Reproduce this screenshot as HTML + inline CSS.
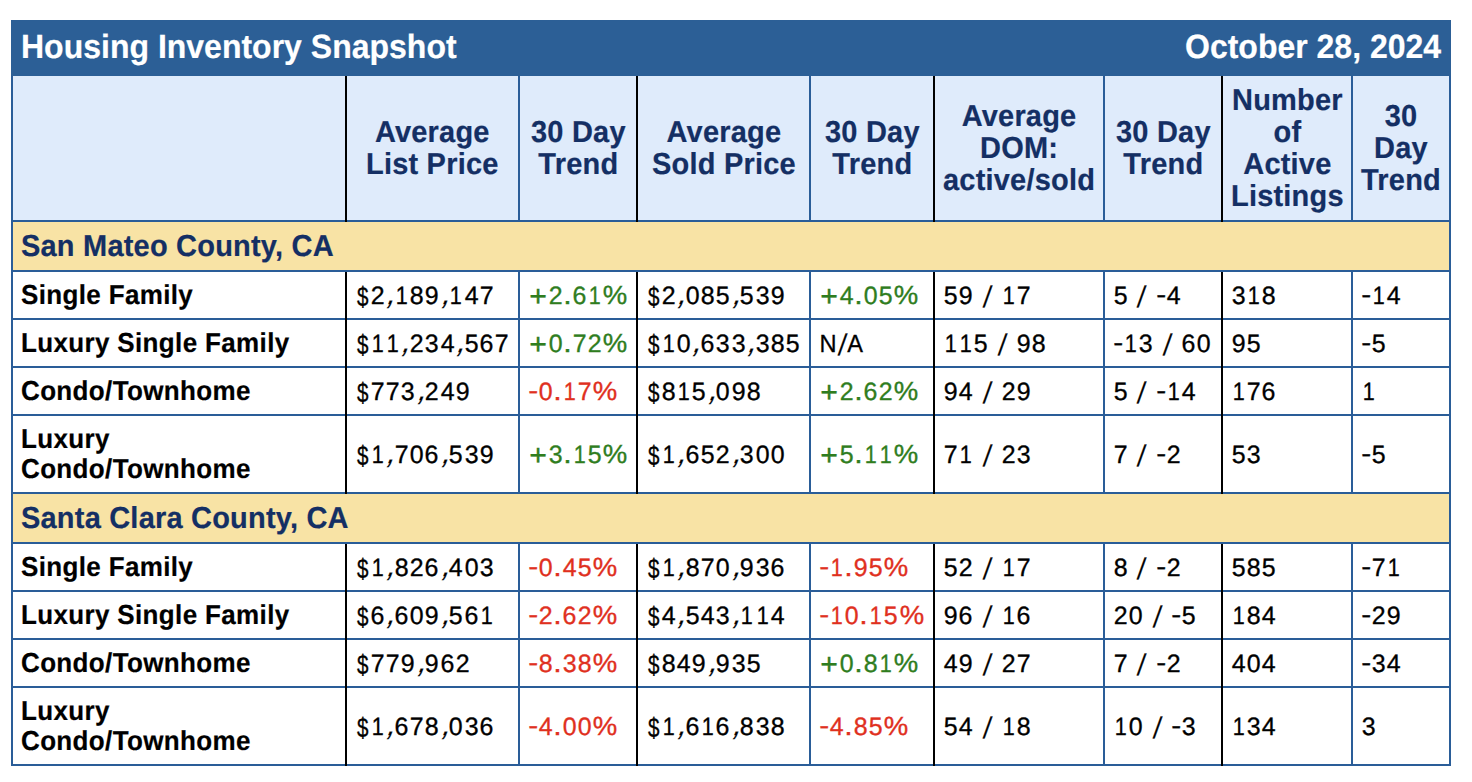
<!DOCTYPE html>
<html><head><meta charset="utf-8"><title>Housing Inventory Snapshot</title>
<style>
html,body{margin:0;padding:0;background:#fff;width:1472px;height:782px;overflow:hidden;}
body{position:relative;font-family:"Liberation Sans",sans-serif;}
.t,.h,.s,.lab{-webkit-text-stroke:0.2px currentColor;}
.g0 > div{position:absolute;}
.t{position:absolute;color:#fff;font-weight:bold;font-size:32px;line-height:54px;height:54px;white-space:nowrap;}
.t span{display:inline-block;transform:scaleY(1.05) skewX(0.05deg);transform-origin:50% 38px;}
.h{position:absolute;display:flex;align-items:center;justify-content:center;text-align:center;color:#142f64;font-weight:bold;font-size:29px;line-height:32px;letter-spacing:0.2px;}
.h span,.s span{display:block;transform:scaleY(1.045) skewX(0.05deg);transform-origin:50% 26px;}
.s{position:absolute;display:flex;align-items:center;color:#142f64;font-weight:bold;font-size:29px;line-height:32px;letter-spacing:0.2px;white-space:nowrap;}
.lab{position:absolute;display:flex;align-items:center;color:#000;font-weight:bold;font-size:26px;line-height:30px;letter-spacing:0.35px;white-space:nowrap;}
.lab span{display:block;transform:scaleY(1.055) skewX(0.05deg);transform-origin:50% 24px;}
.v{color:#000;font-size:24px;line-height:24px;-webkit-text-stroke:0.3px currentColor;}
.v b{position:absolute;font-weight:normal;height:24px;transform-origin:0 20.32px;white-space:pre;}
.g{color:#2f7d1e;}
.r{color:#e0301e;}
</style></head><body>
<div class="g0">
<div style="left:11px;top:20px;width:1440px;height:746px;background:#2a5d98"></div>
<div style="left:11px;top:20px;width:1440px;height:56px;background:#2c5f96"></div>
<div style="left:13px;top:76px;width:1436px;height:144px;background:#dfebfb"></div>
<div style="left:13px;top:222px;width:1436px;height:48px;background:#f8e3a5"></div>
<div style="left:13px;top:272px;width:1436px;height:46px;background:#ffffff"></div>
<div style="left:13px;top:320px;width:1436px;height:46px;background:#ffffff"></div>
<div style="left:13px;top:368px;width:1436px;height:46px;background:#ffffff"></div>
<div style="left:13px;top:416px;width:1436px;height:76px;background:#ffffff"></div>
<div style="left:13px;top:494px;width:1436px;height:48px;background:#f8e3a5"></div>
<div style="left:13px;top:544px;width:1436px;height:46px;background:#ffffff"></div>
<div style="left:13px;top:592px;width:1436px;height:46px;background:#ffffff"></div>
<div style="left:13px;top:640px;width:1436px;height:46px;background:#ffffff"></div>
<div style="left:13px;top:688px;width:1436px;height:76px;background:#ffffff"></div>
<div style="left:345px;top:76px;width:2px;height:146px;background:#000000"></div>
<div style="left:345px;top:272px;width:2px;height:48px;background:#000000"></div>
<div style="left:345px;top:320px;width:2px;height:48px;background:#000000"></div>
<div style="left:345px;top:368px;width:2px;height:48px;background:#000000"></div>
<div style="left:345px;top:416px;width:2px;height:78px;background:#000000"></div>
<div style="left:345px;top:544px;width:2px;height:48px;background:#000000"></div>
<div style="left:345px;top:592px;width:2px;height:48px;background:#000000"></div>
<div style="left:345px;top:640px;width:2px;height:48px;background:#000000"></div>
<div style="left:345px;top:688px;width:2px;height:78px;background:#000000"></div>
<div style="left:518px;top:76px;width:2px;height:144px;background:#2a5d98"></div>
<div style="left:518px;top:272px;width:2px;height:46px;background:#2a5d98"></div>
<div style="left:518px;top:320px;width:2px;height:46px;background:#2a5d98"></div>
<div style="left:518px;top:368px;width:2px;height:46px;background:#2a5d98"></div>
<div style="left:518px;top:416px;width:2px;height:76px;background:#2a5d98"></div>
<div style="left:518px;top:544px;width:2px;height:46px;background:#2a5d98"></div>
<div style="left:518px;top:592px;width:2px;height:46px;background:#2a5d98"></div>
<div style="left:518px;top:640px;width:2px;height:46px;background:#2a5d98"></div>
<div style="left:518px;top:688px;width:2px;height:76px;background:#2a5d98"></div>
<div style="left:636px;top:76px;width:2px;height:146px;background:#000000"></div>
<div style="left:636px;top:272px;width:2px;height:48px;background:#000000"></div>
<div style="left:636px;top:320px;width:2px;height:48px;background:#000000"></div>
<div style="left:636px;top:368px;width:2px;height:48px;background:#000000"></div>
<div style="left:636px;top:416px;width:2px;height:78px;background:#000000"></div>
<div style="left:636px;top:544px;width:2px;height:48px;background:#000000"></div>
<div style="left:636px;top:592px;width:2px;height:48px;background:#000000"></div>
<div style="left:636px;top:640px;width:2px;height:48px;background:#000000"></div>
<div style="left:636px;top:688px;width:2px;height:78px;background:#000000"></div>
<div style="left:809px;top:76px;width:2px;height:144px;background:#2a5d98"></div>
<div style="left:809px;top:272px;width:2px;height:46px;background:#2a5d98"></div>
<div style="left:809px;top:320px;width:2px;height:46px;background:#2a5d98"></div>
<div style="left:809px;top:368px;width:2px;height:46px;background:#2a5d98"></div>
<div style="left:809px;top:416px;width:2px;height:76px;background:#2a5d98"></div>
<div style="left:809px;top:544px;width:2px;height:46px;background:#2a5d98"></div>
<div style="left:809px;top:592px;width:2px;height:46px;background:#2a5d98"></div>
<div style="left:809px;top:640px;width:2px;height:46px;background:#2a5d98"></div>
<div style="left:809px;top:688px;width:2px;height:76px;background:#2a5d98"></div>
<div style="left:933px;top:76px;width:2px;height:146px;background:#000000"></div>
<div style="left:933px;top:272px;width:2px;height:48px;background:#000000"></div>
<div style="left:933px;top:320px;width:2px;height:48px;background:#000000"></div>
<div style="left:933px;top:368px;width:2px;height:48px;background:#000000"></div>
<div style="left:933px;top:416px;width:2px;height:78px;background:#000000"></div>
<div style="left:933px;top:544px;width:2px;height:48px;background:#000000"></div>
<div style="left:933px;top:592px;width:2px;height:48px;background:#000000"></div>
<div style="left:933px;top:640px;width:2px;height:48px;background:#000000"></div>
<div style="left:933px;top:688px;width:2px;height:78px;background:#000000"></div>
<div style="left:1103px;top:76px;width:2px;height:144px;background:#2a5d98"></div>
<div style="left:1103px;top:272px;width:2px;height:46px;background:#2a5d98"></div>
<div style="left:1103px;top:320px;width:2px;height:46px;background:#2a5d98"></div>
<div style="left:1103px;top:368px;width:2px;height:46px;background:#2a5d98"></div>
<div style="left:1103px;top:416px;width:2px;height:76px;background:#2a5d98"></div>
<div style="left:1103px;top:544px;width:2px;height:46px;background:#2a5d98"></div>
<div style="left:1103px;top:592px;width:2px;height:46px;background:#2a5d98"></div>
<div style="left:1103px;top:640px;width:2px;height:46px;background:#2a5d98"></div>
<div style="left:1103px;top:688px;width:2px;height:76px;background:#2a5d98"></div>
<div style="left:1221px;top:76px;width:2px;height:146px;background:#000000"></div>
<div style="left:1221px;top:272px;width:2px;height:48px;background:#000000"></div>
<div style="left:1221px;top:320px;width:2px;height:48px;background:#000000"></div>
<div style="left:1221px;top:368px;width:2px;height:48px;background:#000000"></div>
<div style="left:1221px;top:416px;width:2px;height:78px;background:#000000"></div>
<div style="left:1221px;top:544px;width:2px;height:48px;background:#000000"></div>
<div style="left:1221px;top:592px;width:2px;height:48px;background:#000000"></div>
<div style="left:1221px;top:640px;width:2px;height:48px;background:#000000"></div>
<div style="left:1221px;top:688px;width:2px;height:78px;background:#000000"></div>
<div style="left:1351px;top:76px;width:2px;height:144px;background:#2a5d98"></div>
<div style="left:1351px;top:272px;width:2px;height:46px;background:#2a5d98"></div>
<div style="left:1351px;top:320px;width:2px;height:46px;background:#2a5d98"></div>
<div style="left:1351px;top:368px;width:2px;height:46px;background:#2a5d98"></div>
<div style="left:1351px;top:416px;width:2px;height:76px;background:#2a5d98"></div>
<div style="left:1351px;top:544px;width:2px;height:46px;background:#2a5d98"></div>
<div style="left:1351px;top:592px;width:2px;height:46px;background:#2a5d98"></div>
<div style="left:1351px;top:640px;width:2px;height:46px;background:#2a5d98"></div>
<div style="left:1351px;top:688px;width:2px;height:76px;background:#2a5d98"></div>
</div>
<div class="t" style="left:21px;top:20px;"><span>Housing Inventory Snapshot</span></div>
<div class="t" style="right:31px;top:20px;"><span>October 28, 2024</span></div>
<div class="h" style="left:347px;width:171px;top:76px;height:144px;"><div><span>Average</span><span>List Price</span></div></div>
<div class="h" style="left:520px;width:116px;top:76px;height:144px;"><div><span>30 Day</span><span>Trend</span></div></div>
<div class="h" style="left:638px;width:171px;top:76px;height:144px;"><div><span>Average</span><span>Sold Price</span></div></div>
<div class="h" style="left:811px;width:122px;top:76px;height:144px;"><div><span>30 Day</span><span>Trend</span></div></div>
<div class="h" style="left:935px;width:168px;top:76px;height:144px;"><div><span>Average</span><span>DOM:</span><span>active/sold</span></div></div>
<div class="h" style="left:1105px;width:116px;top:76px;height:144px;"><div><span>30 Day</span><span>Trend</span></div></div>
<div class="h" style="left:1223px;width:128px;top:76px;height:144px;"><div><span>Number</span><span>of</span><span>Active</span><span>Listings</span></div></div>
<div class="h" style="left:1353px;width:96px;top:76px;height:144px;"><div><span>30</span><span>Day</span><span>Trend</span></div></div>
<div class="s" style="left:21px;top:222px;height:48px;"><span>San Mateo County, CA</span></div>
<div class="lab" style="left:21px;top:272px;height:46px;"><div><span>Single Family</span></div></div>
<div class="v"><b style="left:354.55px;top:283.68px;transform:translate(1.96px,1.66px) scale(0.858,1.137) skewX(0.05deg)">$</b><b style="left:369.81px;top:283.68px;transform:translate(0.69px,-0.00px) scale(1.040,1.045) skewX(0.05deg)">2</b><b style="left:385.07px;top:283.68px;transform:translate(0.82px,-0.28px) skewX(-20deg) scale(1.100,1.313) skewX(0.05deg)">,</b><b style="left:393.80px;top:283.68px;transform:translate(1.83px,-0.00px) scale(0.900,1.045) skewX(0.05deg)">1</b><b style="left:409.05px;top:283.68px;transform:translate(0.69px,0.00px) scale(1.040,1.045) skewX(0.05deg)">8</b><b style="left:424.31px;top:283.68px;transform:translate(0.69px,0.00px) scale(1.040,1.045) skewX(0.05deg)">9</b><b style="left:439.57px;top:283.68px;transform:translate(0.82px,-0.28px) skewX(-20deg) scale(1.100,1.313) skewX(0.05deg)">,</b><b style="left:448.30px;top:283.68px;transform:translate(1.83px,-0.00px) scale(0.900,1.045) skewX(0.05deg)">1</b><b style="left:463.56px;top:283.68px;transform:translate(0.77px,-0.00px) scale(1.040,1.045) skewX(0.05deg)">4</b><b style="left:478.82px;top:283.68px;transform:translate(0.68px,-0.00px) scale(1.040,1.045) skewX(0.05deg)">7</b></div>
<div class="v g"><b style="left:527.55px;top:283.68px;transform:translate(1.23px,2.30px) scale(1.261,1.235) skewX(0.05deg)">+</b><b style="left:547.66px;top:283.68px;transform:translate(0.69px,-0.00px) scale(1.040,1.045) skewX(0.05deg)">2</b><b style="left:562.92px;top:283.68px;transform:translate(0.13px,-0.00px) scale(1.269,1.130) skewX(0.05deg)">.</b><b style="left:571.65px;top:283.68px;transform:translate(0.60px,0.00px) scale(1.040,1.045) skewX(0.05deg)">6</b><b style="left:586.91px;top:283.68px;transform:translate(1.83px,-0.00px) scale(0.900,1.045) skewX(0.05deg)">1</b><b style="left:602.16px;top:283.68px;transform:translate(0.68px,0.10px) scale(1.146,1.096) skewX(0.05deg)">%</b></div>
<div class="v"><b style="left:645.55px;top:283.68px;transform:translate(1.96px,1.66px) scale(0.858,1.137) skewX(0.05deg)">$</b><b style="left:660.81px;top:283.68px;transform:translate(0.69px,-0.00px) scale(1.040,1.045) skewX(0.05deg)">2</b><b style="left:676.07px;top:283.68px;transform:translate(0.82px,-0.28px) skewX(-20deg) scale(1.100,1.313) skewX(0.05deg)">,</b><b style="left:684.80px;top:283.68px;transform:translate(0.69px,0.00px) scale(1.040,1.045) skewX(0.05deg)">0</b><b style="left:700.05px;top:283.68px;transform:translate(0.69px,0.00px) scale(1.040,1.045) skewX(0.05deg)">8</b><b style="left:715.31px;top:283.68px;transform:translate(0.71px,-0.00px) scale(1.040,1.045) skewX(0.05deg)">5</b><b style="left:730.57px;top:283.68px;transform:translate(0.82px,-0.28px) skewX(-20deg) scale(1.100,1.313) skewX(0.05deg)">,</b><b style="left:739.30px;top:283.68px;transform:translate(0.71px,-0.00px) scale(1.040,1.045) skewX(0.05deg)">5</b><b style="left:754.56px;top:283.68px;transform:translate(0.76px,0.00px) scale(1.040,1.045) skewX(0.05deg)">3</b><b style="left:769.82px;top:283.68px;transform:translate(0.69px,0.00px) scale(1.040,1.045) skewX(0.05deg)">9</b></div>
<div class="v g"><b style="left:818.55px;top:283.68px;transform:translate(1.23px,2.30px) scale(1.261,1.235) skewX(0.05deg)">+</b><b style="left:838.66px;top:283.68px;transform:translate(0.77px,-0.00px) scale(1.040,1.045) skewX(0.05deg)">4</b><b style="left:853.92px;top:283.68px;transform:translate(0.13px,-0.00px) scale(1.269,1.130) skewX(0.05deg)">.</b><b style="left:862.65px;top:283.68px;transform:translate(0.69px,0.00px) scale(1.040,1.045) skewX(0.05deg)">0</b><b style="left:877.91px;top:283.68px;transform:translate(0.71px,-0.00px) scale(1.040,1.045) skewX(0.05deg)">5</b><b style="left:893.16px;top:283.68px;transform:translate(0.68px,0.10px) scale(1.146,1.096) skewX(0.05deg)">%</b></div>
<div class="v"><b style="left:942.55px;top:283.68px;transform:translate(0.71px,-0.00px) scale(1.040,1.045) skewX(0.05deg)">5</b><b style="left:957.81px;top:283.68px;transform:translate(0.69px,0.00px) scale(1.040,1.045) skewX(0.05deg)">9</b><b style="left:981.50px;top:283.68px;transform:translate(0.62px,2.91px) skewX(-8deg) scale(1.000,1.243) skewX(0.05deg)">/</b><b style="left:1000.85px;top:283.68px;transform:translate(1.83px,-0.00px) scale(0.900,1.045) skewX(0.05deg)">1</b><b style="left:1016.11px;top:283.68px;transform:translate(0.68px,-0.00px) scale(1.040,1.045) skewX(0.05deg)">7</b></div>
<div class="v"><b style="left:1112.55px;top:283.68px;transform:translate(0.71px,-0.00px) scale(1.040,1.045) skewX(0.05deg)">5</b><b style="left:1136.25px;top:283.68px;transform:translate(0.62px,2.91px) skewX(-8deg) scale(1.000,1.243) skewX(0.05deg)">/</b><b style="left:1155.59px;top:283.68px;transform:translate(0.17px,-1.10px) scale(1.246,1.067) skewX(0.05deg)">-</b><b style="left:1165.88px;top:283.68px;transform:translate(0.77px,-0.00px) scale(1.040,1.045) skewX(0.05deg)">4</b></div>
<div class="v"><b style="left:1230.55px;top:283.68px;transform:translate(0.76px,0.00px) scale(1.040,1.045) skewX(0.05deg)">3</b><b style="left:1245.81px;top:283.68px;transform:translate(1.83px,-0.00px) scale(0.900,1.045) skewX(0.05deg)">1</b><b style="left:1261.07px;top:283.68px;transform:translate(0.69px,0.00px) scale(1.040,1.045) skewX(0.05deg)">8</b></div>
<div class="v"><b style="left:1360.55px;top:283.68px;transform:translate(0.17px,-1.10px) scale(1.246,1.067) skewX(0.05deg)">-</b><b style="left:1370.84px;top:283.68px;transform:translate(1.83px,-0.00px) scale(0.900,1.045) skewX(0.05deg)">1</b><b style="left:1386.10px;top:283.68px;transform:translate(0.77px,-0.00px) scale(1.040,1.045) skewX(0.05deg)">4</b></div>
<div class="lab" style="left:21px;top:320px;height:46px;"><div><span>Luxury Single Family</span></div></div>
<div class="v"><b style="left:354.55px;top:331.68px;transform:translate(1.96px,1.66px) scale(0.858,1.137) skewX(0.05deg)">$</b><b style="left:369.81px;top:331.68px;transform:translate(1.83px,-0.00px) scale(0.900,1.045) skewX(0.05deg)">1</b><b style="left:385.07px;top:331.68px;transform:translate(1.83px,-0.00px) scale(0.900,1.045) skewX(0.05deg)">1</b><b style="left:400.32px;top:331.68px;transform:translate(0.82px,-0.28px) skewX(-20deg) scale(1.100,1.313) skewX(0.05deg)">,</b><b style="left:409.05px;top:331.68px;transform:translate(0.69px,-0.00px) scale(1.040,1.045) skewX(0.05deg)">2</b><b style="left:424.31px;top:331.68px;transform:translate(0.76px,0.00px) scale(1.040,1.045) skewX(0.05deg)">3</b><b style="left:439.57px;top:331.68px;transform:translate(0.77px,-0.00px) scale(1.040,1.045) skewX(0.05deg)">4</b><b style="left:454.83px;top:331.68px;transform:translate(0.82px,-0.28px) skewX(-20deg) scale(1.100,1.313) skewX(0.05deg)">,</b><b style="left:463.56px;top:331.68px;transform:translate(0.71px,-0.00px) scale(1.040,1.045) skewX(0.05deg)">5</b><b style="left:478.82px;top:331.68px;transform:translate(0.60px,0.00px) scale(1.040,1.045) skewX(0.05deg)">6</b><b style="left:494.07px;top:331.68px;transform:translate(0.68px,-0.00px) scale(1.040,1.045) skewX(0.05deg)">7</b></div>
<div class="v g"><b style="left:527.55px;top:331.68px;transform:translate(1.23px,2.30px) scale(1.261,1.235) skewX(0.05deg)">+</b><b style="left:547.66px;top:331.68px;transform:translate(0.69px,0.00px) scale(1.040,1.045) skewX(0.05deg)">0</b><b style="left:562.92px;top:331.68px;transform:translate(0.13px,-0.00px) scale(1.269,1.130) skewX(0.05deg)">.</b><b style="left:571.65px;top:331.68px;transform:translate(0.68px,-0.00px) scale(1.040,1.045) skewX(0.05deg)">7</b><b style="left:586.91px;top:331.68px;transform:translate(0.69px,-0.00px) scale(1.040,1.045) skewX(0.05deg)">2</b><b style="left:602.16px;top:331.68px;transform:translate(0.68px,0.10px) scale(1.146,1.096) skewX(0.05deg)">%</b></div>
<div class="v"><b style="left:645.55px;top:331.68px;transform:translate(1.96px,1.66px) scale(0.858,1.137) skewX(0.05deg)">$</b><b style="left:660.81px;top:331.68px;transform:translate(1.83px,-0.00px) scale(0.900,1.045) skewX(0.05deg)">1</b><b style="left:676.07px;top:331.68px;transform:translate(0.69px,0.00px) scale(1.040,1.045) skewX(0.05deg)">0</b><b style="left:691.32px;top:331.68px;transform:translate(0.82px,-0.28px) skewX(-20deg) scale(1.100,1.313) skewX(0.05deg)">,</b><b style="left:700.05px;top:331.68px;transform:translate(0.60px,0.00px) scale(1.040,1.045) skewX(0.05deg)">6</b><b style="left:715.31px;top:331.68px;transform:translate(0.76px,0.00px) scale(1.040,1.045) skewX(0.05deg)">3</b><b style="left:730.57px;top:331.68px;transform:translate(0.76px,0.00px) scale(1.040,1.045) skewX(0.05deg)">3</b><b style="left:745.83px;top:331.68px;transform:translate(0.82px,-0.28px) skewX(-20deg) scale(1.100,1.313) skewX(0.05deg)">,</b><b style="left:754.56px;top:331.68px;transform:translate(0.76px,0.00px) scale(1.040,1.045) skewX(0.05deg)">3</b><b style="left:769.82px;top:331.68px;transform:translate(0.69px,0.00px) scale(1.040,1.045) skewX(0.05deg)">8</b><b style="left:785.07px;top:331.68px;transform:translate(0.71px,-0.00px) scale(1.040,1.045) skewX(0.05deg)">5</b></div>
<div class="v"><b style="left:818.55px;top:331.68px;transform:translate(0.44px,-0.00px) scale(0.985,1.030) skewX(0.05deg)">N</b><b style="left:836.50px;top:331.68px;transform:translate(0.62px,2.91px) skewX(-8deg) scale(1.000,1.243) skewX(0.05deg)">/</b><b style="left:847.41px;top:331.68px;transform:translate(0.36px,-0.00px) scale(0.980,1.030) skewX(0.05deg)">A</b></div>
<div class="v"><b style="left:942.55px;top:331.68px;transform:translate(1.83px,-0.00px) scale(0.900,1.045) skewX(0.05deg)">1</b><b style="left:957.81px;top:331.68px;transform:translate(1.83px,-0.00px) scale(0.900,1.045) skewX(0.05deg)">1</b><b style="left:973.07px;top:331.68px;transform:translate(0.71px,-0.00px) scale(1.040,1.045) skewX(0.05deg)">5</b><b style="left:996.76px;top:331.68px;transform:translate(0.62px,2.91px) skewX(-8deg) scale(1.000,1.243) skewX(0.05deg)">/</b><b style="left:1016.11px;top:331.68px;transform:translate(0.69px,0.00px) scale(1.040,1.045) skewX(0.05deg)">9</b><b style="left:1031.37px;top:331.68px;transform:translate(0.69px,0.00px) scale(1.040,1.045) skewX(0.05deg)">8</b></div>
<div class="v"><b style="left:1112.55px;top:331.68px;transform:translate(0.17px,-1.10px) scale(1.246,1.067) skewX(0.05deg)">-</b><b style="left:1122.84px;top:331.68px;transform:translate(1.83px,-0.00px) scale(0.900,1.045) skewX(0.05deg)">1</b><b style="left:1138.10px;top:331.68px;transform:translate(0.76px,0.00px) scale(1.040,1.045) skewX(0.05deg)">3</b><b style="left:1161.79px;top:331.68px;transform:translate(0.62px,2.91px) skewX(-8deg) scale(1.000,1.243) skewX(0.05deg)">/</b><b style="left:1181.14px;top:331.68px;transform:translate(0.60px,0.00px) scale(1.040,1.045) skewX(0.05deg)">6</b><b style="left:1196.40px;top:331.68px;transform:translate(0.69px,0.00px) scale(1.040,1.045) skewX(0.05deg)">0</b></div>
<div class="v"><b style="left:1230.55px;top:331.68px;transform:translate(0.69px,0.00px) scale(1.040,1.045) skewX(0.05deg)">9</b><b style="left:1245.81px;top:331.68px;transform:translate(0.71px,-0.00px) scale(1.040,1.045) skewX(0.05deg)">5</b></div>
<div class="v"><b style="left:1360.55px;top:331.68px;transform:translate(0.17px,-1.10px) scale(1.246,1.067) skewX(0.05deg)">-</b><b style="left:1370.84px;top:331.68px;transform:translate(0.71px,-0.00px) scale(1.040,1.045) skewX(0.05deg)">5</b></div>
<div class="lab" style="left:21px;top:368px;height:46px;"><div><span>Condo/Townhome</span></div></div>
<div class="v"><b style="left:354.55px;top:379.68px;transform:translate(1.96px,1.66px) scale(0.858,1.137) skewX(0.05deg)">$</b><b style="left:369.81px;top:379.68px;transform:translate(0.68px,-0.00px) scale(1.040,1.045) skewX(0.05deg)">7</b><b style="left:385.07px;top:379.68px;transform:translate(0.68px,-0.00px) scale(1.040,1.045) skewX(0.05deg)">7</b><b style="left:400.32px;top:379.68px;transform:translate(0.76px,0.00px) scale(1.040,1.045) skewX(0.05deg)">3</b><b style="left:415.58px;top:379.68px;transform:translate(0.82px,-0.28px) skewX(-20deg) scale(1.100,1.313) skewX(0.05deg)">,</b><b style="left:424.31px;top:379.68px;transform:translate(0.69px,-0.00px) scale(1.040,1.045) skewX(0.05deg)">2</b><b style="left:439.57px;top:379.68px;transform:translate(0.77px,-0.00px) scale(1.040,1.045) skewX(0.05deg)">4</b><b style="left:454.83px;top:379.68px;transform:translate(0.69px,0.00px) scale(1.040,1.045) skewX(0.05deg)">9</b></div>
<div class="v r"><b style="left:527.55px;top:379.68px;transform:translate(0.17px,-1.10px) scale(1.246,1.067) skewX(0.05deg)">-</b><b style="left:537.84px;top:379.68px;transform:translate(0.69px,0.00px) scale(1.040,1.045) skewX(0.05deg)">0</b><b style="left:553.10px;top:379.68px;transform:translate(0.13px,-0.00px) scale(1.269,1.130) skewX(0.05deg)">.</b><b style="left:561.83px;top:379.68px;transform:translate(1.83px,-0.00px) scale(0.900,1.045) skewX(0.05deg)">1</b><b style="left:577.09px;top:379.68px;transform:translate(0.68px,-0.00px) scale(1.040,1.045) skewX(0.05deg)">7</b><b style="left:592.34px;top:379.68px;transform:translate(0.68px,0.10px) scale(1.146,1.096) skewX(0.05deg)">%</b></div>
<div class="v"><b style="left:645.55px;top:379.68px;transform:translate(1.96px,1.66px) scale(0.858,1.137) skewX(0.05deg)">$</b><b style="left:660.81px;top:379.68px;transform:translate(0.69px,0.00px) scale(1.040,1.045) skewX(0.05deg)">8</b><b style="left:676.07px;top:379.68px;transform:translate(1.83px,-0.00px) scale(0.900,1.045) skewX(0.05deg)">1</b><b style="left:691.32px;top:379.68px;transform:translate(0.71px,-0.00px) scale(1.040,1.045) skewX(0.05deg)">5</b><b style="left:706.58px;top:379.68px;transform:translate(0.82px,-0.28px) skewX(-20deg) scale(1.100,1.313) skewX(0.05deg)">,</b><b style="left:715.31px;top:379.68px;transform:translate(0.69px,0.00px) scale(1.040,1.045) skewX(0.05deg)">0</b><b style="left:730.57px;top:379.68px;transform:translate(0.69px,0.00px) scale(1.040,1.045) skewX(0.05deg)">9</b><b style="left:745.83px;top:379.68px;transform:translate(0.69px,0.00px) scale(1.040,1.045) skewX(0.05deg)">8</b></div>
<div class="v g"><b style="left:818.55px;top:379.68px;transform:translate(1.23px,2.30px) scale(1.261,1.235) skewX(0.05deg)">+</b><b style="left:838.66px;top:379.68px;transform:translate(0.69px,-0.00px) scale(1.040,1.045) skewX(0.05deg)">2</b><b style="left:853.92px;top:379.68px;transform:translate(0.13px,-0.00px) scale(1.269,1.130) skewX(0.05deg)">.</b><b style="left:862.65px;top:379.68px;transform:translate(0.60px,0.00px) scale(1.040,1.045) skewX(0.05deg)">6</b><b style="left:877.91px;top:379.68px;transform:translate(0.69px,-0.00px) scale(1.040,1.045) skewX(0.05deg)">2</b><b style="left:893.16px;top:379.68px;transform:translate(0.68px,0.10px) scale(1.146,1.096) skewX(0.05deg)">%</b></div>
<div class="v"><b style="left:942.55px;top:379.68px;transform:translate(0.69px,0.00px) scale(1.040,1.045) skewX(0.05deg)">9</b><b style="left:957.81px;top:379.68px;transform:translate(0.77px,-0.00px) scale(1.040,1.045) skewX(0.05deg)">4</b><b style="left:981.50px;top:379.68px;transform:translate(0.62px,2.91px) skewX(-8deg) scale(1.000,1.243) skewX(0.05deg)">/</b><b style="left:1000.85px;top:379.68px;transform:translate(0.69px,-0.00px) scale(1.040,1.045) skewX(0.05deg)">2</b><b style="left:1016.11px;top:379.68px;transform:translate(0.69px,0.00px) scale(1.040,1.045) skewX(0.05deg)">9</b></div>
<div class="v"><b style="left:1112.55px;top:379.68px;transform:translate(0.71px,-0.00px) scale(1.040,1.045) skewX(0.05deg)">5</b><b style="left:1136.25px;top:379.68px;transform:translate(0.62px,2.91px) skewX(-8deg) scale(1.000,1.243) skewX(0.05deg)">/</b><b style="left:1155.59px;top:379.68px;transform:translate(0.17px,-1.10px) scale(1.246,1.067) skewX(0.05deg)">-</b><b style="left:1165.88px;top:379.68px;transform:translate(1.83px,-0.00px) scale(0.900,1.045) skewX(0.05deg)">1</b><b style="left:1181.14px;top:379.68px;transform:translate(0.77px,-0.00px) scale(1.040,1.045) skewX(0.05deg)">4</b></div>
<div class="v"><b style="left:1230.55px;top:379.68px;transform:translate(1.83px,-0.00px) scale(0.900,1.045) skewX(0.05deg)">1</b><b style="left:1245.81px;top:379.68px;transform:translate(0.68px,-0.00px) scale(1.040,1.045) skewX(0.05deg)">7</b><b style="left:1261.07px;top:379.68px;transform:translate(0.60px,0.00px) scale(1.040,1.045) skewX(0.05deg)">6</b></div>
<div class="v"><b style="left:1360.55px;top:379.68px;transform:translate(1.83px,-0.00px) scale(0.900,1.045) skewX(0.05deg)">1</b></div>
<div class="lab" style="left:21px;top:416px;height:76px;"><div><span>Luxury</span><span>Condo/Townhome</span></div></div>
<div class="v"><b style="left:354.55px;top:442.68px;transform:translate(1.96px,1.66px) scale(0.858,1.137) skewX(0.05deg)">$</b><b style="left:369.81px;top:442.68px;transform:translate(1.83px,-0.00px) scale(0.900,1.045) skewX(0.05deg)">1</b><b style="left:385.07px;top:442.68px;transform:translate(0.82px,-0.28px) skewX(-20deg) scale(1.100,1.313) skewX(0.05deg)">,</b><b style="left:393.80px;top:442.68px;transform:translate(0.68px,-0.00px) scale(1.040,1.045) skewX(0.05deg)">7</b><b style="left:409.05px;top:442.68px;transform:translate(0.69px,0.00px) scale(1.040,1.045) skewX(0.05deg)">0</b><b style="left:424.31px;top:442.68px;transform:translate(0.60px,0.00px) scale(1.040,1.045) skewX(0.05deg)">6</b><b style="left:439.57px;top:442.68px;transform:translate(0.82px,-0.28px) skewX(-20deg) scale(1.100,1.313) skewX(0.05deg)">,</b><b style="left:448.30px;top:442.68px;transform:translate(0.71px,-0.00px) scale(1.040,1.045) skewX(0.05deg)">5</b><b style="left:463.56px;top:442.68px;transform:translate(0.76px,0.00px) scale(1.040,1.045) skewX(0.05deg)">3</b><b style="left:478.82px;top:442.68px;transform:translate(0.69px,0.00px) scale(1.040,1.045) skewX(0.05deg)">9</b></div>
<div class="v g"><b style="left:527.55px;top:442.68px;transform:translate(1.23px,2.30px) scale(1.261,1.235) skewX(0.05deg)">+</b><b style="left:547.66px;top:442.68px;transform:translate(0.76px,0.00px) scale(1.040,1.045) skewX(0.05deg)">3</b><b style="left:562.92px;top:442.68px;transform:translate(0.13px,-0.00px) scale(1.269,1.130) skewX(0.05deg)">.</b><b style="left:571.65px;top:442.68px;transform:translate(1.83px,-0.00px) scale(0.900,1.045) skewX(0.05deg)">1</b><b style="left:586.91px;top:442.68px;transform:translate(0.71px,-0.00px) scale(1.040,1.045) skewX(0.05deg)">5</b><b style="left:602.16px;top:442.68px;transform:translate(0.68px,0.10px) scale(1.146,1.096) skewX(0.05deg)">%</b></div>
<div class="v"><b style="left:645.55px;top:442.68px;transform:translate(1.96px,1.66px) scale(0.858,1.137) skewX(0.05deg)">$</b><b style="left:660.81px;top:442.68px;transform:translate(1.83px,-0.00px) scale(0.900,1.045) skewX(0.05deg)">1</b><b style="left:676.07px;top:442.68px;transform:translate(0.82px,-0.28px) skewX(-20deg) scale(1.100,1.313) skewX(0.05deg)">,</b><b style="left:684.80px;top:442.68px;transform:translate(0.60px,0.00px) scale(1.040,1.045) skewX(0.05deg)">6</b><b style="left:700.05px;top:442.68px;transform:translate(0.71px,-0.00px) scale(1.040,1.045) skewX(0.05deg)">5</b><b style="left:715.31px;top:442.68px;transform:translate(0.69px,-0.00px) scale(1.040,1.045) skewX(0.05deg)">2</b><b style="left:730.57px;top:442.68px;transform:translate(0.82px,-0.28px) skewX(-20deg) scale(1.100,1.313) skewX(0.05deg)">,</b><b style="left:739.30px;top:442.68px;transform:translate(0.76px,0.00px) scale(1.040,1.045) skewX(0.05deg)">3</b><b style="left:754.56px;top:442.68px;transform:translate(0.69px,0.00px) scale(1.040,1.045) skewX(0.05deg)">0</b><b style="left:769.82px;top:442.68px;transform:translate(0.69px,0.00px) scale(1.040,1.045) skewX(0.05deg)">0</b></div>
<div class="v g"><b style="left:818.55px;top:442.68px;transform:translate(1.23px,2.30px) scale(1.261,1.235) skewX(0.05deg)">+</b><b style="left:838.66px;top:442.68px;transform:translate(0.71px,-0.00px) scale(1.040,1.045) skewX(0.05deg)">5</b><b style="left:853.92px;top:442.68px;transform:translate(0.13px,-0.00px) scale(1.269,1.130) skewX(0.05deg)">.</b><b style="left:862.65px;top:442.68px;transform:translate(1.83px,-0.00px) scale(0.900,1.045) skewX(0.05deg)">1</b><b style="left:877.91px;top:442.68px;transform:translate(1.83px,-0.00px) scale(0.900,1.045) skewX(0.05deg)">1</b><b style="left:893.16px;top:442.68px;transform:translate(0.68px,0.10px) scale(1.146,1.096) skewX(0.05deg)">%</b></div>
<div class="v"><b style="left:942.55px;top:442.68px;transform:translate(0.68px,-0.00px) scale(1.040,1.045) skewX(0.05deg)">7</b><b style="left:957.81px;top:442.68px;transform:translate(1.83px,-0.00px) scale(0.900,1.045) skewX(0.05deg)">1</b><b style="left:981.50px;top:442.68px;transform:translate(0.62px,2.91px) skewX(-8deg) scale(1.000,1.243) skewX(0.05deg)">/</b><b style="left:1000.85px;top:442.68px;transform:translate(0.69px,-0.00px) scale(1.040,1.045) skewX(0.05deg)">2</b><b style="left:1016.11px;top:442.68px;transform:translate(0.76px,0.00px) scale(1.040,1.045) skewX(0.05deg)">3</b></div>
<div class="v"><b style="left:1112.55px;top:442.68px;transform:translate(0.68px,-0.00px) scale(1.040,1.045) skewX(0.05deg)">7</b><b style="left:1136.25px;top:442.68px;transform:translate(0.62px,2.91px) skewX(-8deg) scale(1.000,1.243) skewX(0.05deg)">/</b><b style="left:1155.59px;top:442.68px;transform:translate(0.17px,-1.10px) scale(1.246,1.067) skewX(0.05deg)">-</b><b style="left:1165.88px;top:442.68px;transform:translate(0.69px,-0.00px) scale(1.040,1.045) skewX(0.05deg)">2</b></div>
<div class="v"><b style="left:1230.55px;top:442.68px;transform:translate(0.71px,-0.00px) scale(1.040,1.045) skewX(0.05deg)">5</b><b style="left:1245.81px;top:442.68px;transform:translate(0.76px,0.00px) scale(1.040,1.045) skewX(0.05deg)">3</b></div>
<div class="v"><b style="left:1360.55px;top:442.68px;transform:translate(0.17px,-1.10px) scale(1.246,1.067) skewX(0.05deg)">-</b><b style="left:1370.84px;top:442.68px;transform:translate(0.71px,-0.00px) scale(1.040,1.045) skewX(0.05deg)">5</b></div>
<div class="s" style="left:21px;top:494px;height:48px;"><span>Santa Clara County, CA</span></div>
<div class="lab" style="left:21px;top:544px;height:46px;"><div><span>Single Family</span></div></div>
<div class="v"><b style="left:354.55px;top:555.68px;transform:translate(1.96px,1.66px) scale(0.858,1.137) skewX(0.05deg)">$</b><b style="left:369.81px;top:555.68px;transform:translate(1.83px,-0.00px) scale(0.900,1.045) skewX(0.05deg)">1</b><b style="left:385.07px;top:555.68px;transform:translate(0.82px,-0.28px) skewX(-20deg) scale(1.100,1.313) skewX(0.05deg)">,</b><b style="left:393.80px;top:555.68px;transform:translate(0.69px,0.00px) scale(1.040,1.045) skewX(0.05deg)">8</b><b style="left:409.05px;top:555.68px;transform:translate(0.69px,-0.00px) scale(1.040,1.045) skewX(0.05deg)">2</b><b style="left:424.31px;top:555.68px;transform:translate(0.60px,0.00px) scale(1.040,1.045) skewX(0.05deg)">6</b><b style="left:439.57px;top:555.68px;transform:translate(0.82px,-0.28px) skewX(-20deg) scale(1.100,1.313) skewX(0.05deg)">,</b><b style="left:448.30px;top:555.68px;transform:translate(0.77px,-0.00px) scale(1.040,1.045) skewX(0.05deg)">4</b><b style="left:463.56px;top:555.68px;transform:translate(0.69px,0.00px) scale(1.040,1.045) skewX(0.05deg)">0</b><b style="left:478.82px;top:555.68px;transform:translate(0.76px,0.00px) scale(1.040,1.045) skewX(0.05deg)">3</b></div>
<div class="v r"><b style="left:527.55px;top:555.68px;transform:translate(0.17px,-1.10px) scale(1.246,1.067) skewX(0.05deg)">-</b><b style="left:537.84px;top:555.68px;transform:translate(0.69px,0.00px) scale(1.040,1.045) skewX(0.05deg)">0</b><b style="left:553.10px;top:555.68px;transform:translate(0.13px,-0.00px) scale(1.269,1.130) skewX(0.05deg)">.</b><b style="left:561.83px;top:555.68px;transform:translate(0.77px,-0.00px) scale(1.040,1.045) skewX(0.05deg)">4</b><b style="left:577.09px;top:555.68px;transform:translate(0.71px,-0.00px) scale(1.040,1.045) skewX(0.05deg)">5</b><b style="left:592.34px;top:555.68px;transform:translate(0.68px,0.10px) scale(1.146,1.096) skewX(0.05deg)">%</b></div>
<div class="v"><b style="left:645.55px;top:555.68px;transform:translate(1.96px,1.66px) scale(0.858,1.137) skewX(0.05deg)">$</b><b style="left:660.81px;top:555.68px;transform:translate(1.83px,-0.00px) scale(0.900,1.045) skewX(0.05deg)">1</b><b style="left:676.07px;top:555.68px;transform:translate(0.82px,-0.28px) skewX(-20deg) scale(1.100,1.313) skewX(0.05deg)">,</b><b style="left:684.80px;top:555.68px;transform:translate(0.69px,0.00px) scale(1.040,1.045) skewX(0.05deg)">8</b><b style="left:700.05px;top:555.68px;transform:translate(0.68px,-0.00px) scale(1.040,1.045) skewX(0.05deg)">7</b><b style="left:715.31px;top:555.68px;transform:translate(0.69px,0.00px) scale(1.040,1.045) skewX(0.05deg)">0</b><b style="left:730.57px;top:555.68px;transform:translate(0.82px,-0.28px) skewX(-20deg) scale(1.100,1.313) skewX(0.05deg)">,</b><b style="left:739.30px;top:555.68px;transform:translate(0.69px,0.00px) scale(1.040,1.045) skewX(0.05deg)">9</b><b style="left:754.56px;top:555.68px;transform:translate(0.76px,0.00px) scale(1.040,1.045) skewX(0.05deg)">3</b><b style="left:769.82px;top:555.68px;transform:translate(0.60px,0.00px) scale(1.040,1.045) skewX(0.05deg)">6</b></div>
<div class="v r"><b style="left:818.55px;top:555.68px;transform:translate(0.17px,-1.10px) scale(1.246,1.067) skewX(0.05deg)">-</b><b style="left:828.84px;top:555.68px;transform:translate(1.83px,-0.00px) scale(0.900,1.045) skewX(0.05deg)">1</b><b style="left:844.10px;top:555.68px;transform:translate(0.13px,-0.00px) scale(1.269,1.130) skewX(0.05deg)">.</b><b style="left:852.83px;top:555.68px;transform:translate(0.69px,0.00px) scale(1.040,1.045) skewX(0.05deg)">9</b><b style="left:868.09px;top:555.68px;transform:translate(0.71px,-0.00px) scale(1.040,1.045) skewX(0.05deg)">5</b><b style="left:883.34px;top:555.68px;transform:translate(0.68px,0.10px) scale(1.146,1.096) skewX(0.05deg)">%</b></div>
<div class="v"><b style="left:942.55px;top:555.68px;transform:translate(0.71px,-0.00px) scale(1.040,1.045) skewX(0.05deg)">5</b><b style="left:957.81px;top:555.68px;transform:translate(0.69px,-0.00px) scale(1.040,1.045) skewX(0.05deg)">2</b><b style="left:981.50px;top:555.68px;transform:translate(0.62px,2.91px) skewX(-8deg) scale(1.000,1.243) skewX(0.05deg)">/</b><b style="left:1000.85px;top:555.68px;transform:translate(1.83px,-0.00px) scale(0.900,1.045) skewX(0.05deg)">1</b><b style="left:1016.11px;top:555.68px;transform:translate(0.68px,-0.00px) scale(1.040,1.045) skewX(0.05deg)">7</b></div>
<div class="v"><b style="left:1112.55px;top:555.68px;transform:translate(0.69px,0.00px) scale(1.040,1.045) skewX(0.05deg)">8</b><b style="left:1136.25px;top:555.68px;transform:translate(0.62px,2.91px) skewX(-8deg) scale(1.000,1.243) skewX(0.05deg)">/</b><b style="left:1155.59px;top:555.68px;transform:translate(0.17px,-1.10px) scale(1.246,1.067) skewX(0.05deg)">-</b><b style="left:1165.88px;top:555.68px;transform:translate(0.69px,-0.00px) scale(1.040,1.045) skewX(0.05deg)">2</b></div>
<div class="v"><b style="left:1230.55px;top:555.68px;transform:translate(0.71px,-0.00px) scale(1.040,1.045) skewX(0.05deg)">5</b><b style="left:1245.81px;top:555.68px;transform:translate(0.69px,0.00px) scale(1.040,1.045) skewX(0.05deg)">8</b><b style="left:1261.07px;top:555.68px;transform:translate(0.71px,-0.00px) scale(1.040,1.045) skewX(0.05deg)">5</b></div>
<div class="v"><b style="left:1360.55px;top:555.68px;transform:translate(0.17px,-1.10px) scale(1.246,1.067) skewX(0.05deg)">-</b><b style="left:1370.84px;top:555.68px;transform:translate(0.68px,-0.00px) scale(1.040,1.045) skewX(0.05deg)">7</b><b style="left:1386.10px;top:555.68px;transform:translate(1.83px,-0.00px) scale(0.900,1.045) skewX(0.05deg)">1</b></div>
<div class="lab" style="left:21px;top:592px;height:46px;"><div><span>Luxury Single Family</span></div></div>
<div class="v"><b style="left:354.55px;top:603.68px;transform:translate(1.96px,1.66px) scale(0.858,1.137) skewX(0.05deg)">$</b><b style="left:369.81px;top:603.68px;transform:translate(0.60px,0.00px) scale(1.040,1.045) skewX(0.05deg)">6</b><b style="left:385.07px;top:603.68px;transform:translate(0.82px,-0.28px) skewX(-20deg) scale(1.100,1.313) skewX(0.05deg)">,</b><b style="left:393.80px;top:603.68px;transform:translate(0.60px,0.00px) scale(1.040,1.045) skewX(0.05deg)">6</b><b style="left:409.05px;top:603.68px;transform:translate(0.69px,0.00px) scale(1.040,1.045) skewX(0.05deg)">0</b><b style="left:424.31px;top:603.68px;transform:translate(0.69px,0.00px) scale(1.040,1.045) skewX(0.05deg)">9</b><b style="left:439.57px;top:603.68px;transform:translate(0.82px,-0.28px) skewX(-20deg) scale(1.100,1.313) skewX(0.05deg)">,</b><b style="left:448.30px;top:603.68px;transform:translate(0.71px,-0.00px) scale(1.040,1.045) skewX(0.05deg)">5</b><b style="left:463.56px;top:603.68px;transform:translate(0.60px,0.00px) scale(1.040,1.045) skewX(0.05deg)">6</b><b style="left:478.82px;top:603.68px;transform:translate(1.83px,-0.00px) scale(0.900,1.045) skewX(0.05deg)">1</b></div>
<div class="v r"><b style="left:527.55px;top:603.68px;transform:translate(0.17px,-1.10px) scale(1.246,1.067) skewX(0.05deg)">-</b><b style="left:537.84px;top:603.68px;transform:translate(0.69px,-0.00px) scale(1.040,1.045) skewX(0.05deg)">2</b><b style="left:553.10px;top:603.68px;transform:translate(0.13px,-0.00px) scale(1.269,1.130) skewX(0.05deg)">.</b><b style="left:561.83px;top:603.68px;transform:translate(0.60px,0.00px) scale(1.040,1.045) skewX(0.05deg)">6</b><b style="left:577.09px;top:603.68px;transform:translate(0.69px,-0.00px) scale(1.040,1.045) skewX(0.05deg)">2</b><b style="left:592.34px;top:603.68px;transform:translate(0.68px,0.10px) scale(1.146,1.096) skewX(0.05deg)">%</b></div>
<div class="v"><b style="left:645.55px;top:603.68px;transform:translate(1.96px,1.66px) scale(0.858,1.137) skewX(0.05deg)">$</b><b style="left:660.81px;top:603.68px;transform:translate(0.77px,-0.00px) scale(1.040,1.045) skewX(0.05deg)">4</b><b style="left:676.07px;top:603.68px;transform:translate(0.82px,-0.28px) skewX(-20deg) scale(1.100,1.313) skewX(0.05deg)">,</b><b style="left:684.80px;top:603.68px;transform:translate(0.71px,-0.00px) scale(1.040,1.045) skewX(0.05deg)">5</b><b style="left:700.05px;top:603.68px;transform:translate(0.77px,-0.00px) scale(1.040,1.045) skewX(0.05deg)">4</b><b style="left:715.31px;top:603.68px;transform:translate(0.76px,0.00px) scale(1.040,1.045) skewX(0.05deg)">3</b><b style="left:730.57px;top:603.68px;transform:translate(0.82px,-0.28px) skewX(-20deg) scale(1.100,1.313) skewX(0.05deg)">,</b><b style="left:739.30px;top:603.68px;transform:translate(1.83px,-0.00px) scale(0.900,1.045) skewX(0.05deg)">1</b><b style="left:754.56px;top:603.68px;transform:translate(1.83px,-0.00px) scale(0.900,1.045) skewX(0.05deg)">1</b><b style="left:769.82px;top:603.68px;transform:translate(0.77px,-0.00px) scale(1.040,1.045) skewX(0.05deg)">4</b></div>
<div class="v r"><b style="left:818.55px;top:603.68px;transform:translate(0.17px,-1.10px) scale(1.246,1.067) skewX(0.05deg)">-</b><b style="left:828.84px;top:603.68px;transform:translate(1.83px,-0.00px) scale(0.900,1.045) skewX(0.05deg)">1</b><b style="left:844.10px;top:603.68px;transform:translate(0.69px,0.00px) scale(1.040,1.045) skewX(0.05deg)">0</b><b style="left:859.35px;top:603.68px;transform:translate(0.13px,-0.00px) scale(1.269,1.130) skewX(0.05deg)">.</b><b style="left:868.09px;top:603.68px;transform:translate(1.83px,-0.00px) scale(0.900,1.045) skewX(0.05deg)">1</b><b style="left:883.34px;top:603.68px;transform:translate(0.71px,-0.00px) scale(1.040,1.045) skewX(0.05deg)">5</b><b style="left:898.60px;top:603.68px;transform:translate(0.68px,0.10px) scale(1.146,1.096) skewX(0.05deg)">%</b></div>
<div class="v"><b style="left:942.55px;top:603.68px;transform:translate(0.69px,0.00px) scale(1.040,1.045) skewX(0.05deg)">9</b><b style="left:957.81px;top:603.68px;transform:translate(0.60px,0.00px) scale(1.040,1.045) skewX(0.05deg)">6</b><b style="left:981.50px;top:603.68px;transform:translate(0.62px,2.91px) skewX(-8deg) scale(1.000,1.243) skewX(0.05deg)">/</b><b style="left:1000.85px;top:603.68px;transform:translate(1.83px,-0.00px) scale(0.900,1.045) skewX(0.05deg)">1</b><b style="left:1016.11px;top:603.68px;transform:translate(0.60px,0.00px) scale(1.040,1.045) skewX(0.05deg)">6</b></div>
<div class="v"><b style="left:1112.55px;top:603.68px;transform:translate(0.69px,-0.00px) scale(1.040,1.045) skewX(0.05deg)">2</b><b style="left:1127.81px;top:603.68px;transform:translate(0.69px,0.00px) scale(1.040,1.045) skewX(0.05deg)">0</b><b style="left:1151.50px;top:603.68px;transform:translate(0.62px,2.91px) skewX(-8deg) scale(1.000,1.243) skewX(0.05deg)">/</b><b style="left:1170.85px;top:603.68px;transform:translate(0.17px,-1.10px) scale(1.246,1.067) skewX(0.05deg)">-</b><b style="left:1181.14px;top:603.68px;transform:translate(0.71px,-0.00px) scale(1.040,1.045) skewX(0.05deg)">5</b></div>
<div class="v"><b style="left:1230.55px;top:603.68px;transform:translate(1.83px,-0.00px) scale(0.900,1.045) skewX(0.05deg)">1</b><b style="left:1245.81px;top:603.68px;transform:translate(0.69px,0.00px) scale(1.040,1.045) skewX(0.05deg)">8</b><b style="left:1261.07px;top:603.68px;transform:translate(0.77px,-0.00px) scale(1.040,1.045) skewX(0.05deg)">4</b></div>
<div class="v"><b style="left:1360.55px;top:603.68px;transform:translate(0.17px,-1.10px) scale(1.246,1.067) skewX(0.05deg)">-</b><b style="left:1370.84px;top:603.68px;transform:translate(0.69px,-0.00px) scale(1.040,1.045) skewX(0.05deg)">2</b><b style="left:1386.10px;top:603.68px;transform:translate(0.69px,0.00px) scale(1.040,1.045) skewX(0.05deg)">9</b></div>
<div class="lab" style="left:21px;top:640px;height:46px;"><div><span>Condo/Townhome</span></div></div>
<div class="v"><b style="left:354.55px;top:651.68px;transform:translate(1.96px,1.66px) scale(0.858,1.137) skewX(0.05deg)">$</b><b style="left:369.81px;top:651.68px;transform:translate(0.68px,-0.00px) scale(1.040,1.045) skewX(0.05deg)">7</b><b style="left:385.07px;top:651.68px;transform:translate(0.68px,-0.00px) scale(1.040,1.045) skewX(0.05deg)">7</b><b style="left:400.32px;top:651.68px;transform:translate(0.69px,0.00px) scale(1.040,1.045) skewX(0.05deg)">9</b><b style="left:415.58px;top:651.68px;transform:translate(0.82px,-0.28px) skewX(-20deg) scale(1.100,1.313) skewX(0.05deg)">,</b><b style="left:424.31px;top:651.68px;transform:translate(0.69px,0.00px) scale(1.040,1.045) skewX(0.05deg)">9</b><b style="left:439.57px;top:651.68px;transform:translate(0.60px,0.00px) scale(1.040,1.045) skewX(0.05deg)">6</b><b style="left:454.83px;top:651.68px;transform:translate(0.69px,-0.00px) scale(1.040,1.045) skewX(0.05deg)">2</b></div>
<div class="v r"><b style="left:527.55px;top:651.68px;transform:translate(0.17px,-1.10px) scale(1.246,1.067) skewX(0.05deg)">-</b><b style="left:537.84px;top:651.68px;transform:translate(0.69px,0.00px) scale(1.040,1.045) skewX(0.05deg)">8</b><b style="left:553.10px;top:651.68px;transform:translate(0.13px,-0.00px) scale(1.269,1.130) skewX(0.05deg)">.</b><b style="left:561.83px;top:651.68px;transform:translate(0.76px,0.00px) scale(1.040,1.045) skewX(0.05deg)">3</b><b style="left:577.09px;top:651.68px;transform:translate(0.69px,0.00px) scale(1.040,1.045) skewX(0.05deg)">8</b><b style="left:592.34px;top:651.68px;transform:translate(0.68px,0.10px) scale(1.146,1.096) skewX(0.05deg)">%</b></div>
<div class="v"><b style="left:645.55px;top:651.68px;transform:translate(1.96px,1.66px) scale(0.858,1.137) skewX(0.05deg)">$</b><b style="left:660.81px;top:651.68px;transform:translate(0.69px,0.00px) scale(1.040,1.045) skewX(0.05deg)">8</b><b style="left:676.07px;top:651.68px;transform:translate(0.77px,-0.00px) scale(1.040,1.045) skewX(0.05deg)">4</b><b style="left:691.32px;top:651.68px;transform:translate(0.69px,0.00px) scale(1.040,1.045) skewX(0.05deg)">9</b><b style="left:706.58px;top:651.68px;transform:translate(0.82px,-0.28px) skewX(-20deg) scale(1.100,1.313) skewX(0.05deg)">,</b><b style="left:715.31px;top:651.68px;transform:translate(0.69px,0.00px) scale(1.040,1.045) skewX(0.05deg)">9</b><b style="left:730.57px;top:651.68px;transform:translate(0.76px,0.00px) scale(1.040,1.045) skewX(0.05deg)">3</b><b style="left:745.83px;top:651.68px;transform:translate(0.71px,-0.00px) scale(1.040,1.045) skewX(0.05deg)">5</b></div>
<div class="v g"><b style="left:818.55px;top:651.68px;transform:translate(1.23px,2.30px) scale(1.261,1.235) skewX(0.05deg)">+</b><b style="left:838.66px;top:651.68px;transform:translate(0.69px,0.00px) scale(1.040,1.045) skewX(0.05deg)">0</b><b style="left:853.92px;top:651.68px;transform:translate(0.13px,-0.00px) scale(1.269,1.130) skewX(0.05deg)">.</b><b style="left:862.65px;top:651.68px;transform:translate(0.69px,0.00px) scale(1.040,1.045) skewX(0.05deg)">8</b><b style="left:877.91px;top:651.68px;transform:translate(1.83px,-0.00px) scale(0.900,1.045) skewX(0.05deg)">1</b><b style="left:893.16px;top:651.68px;transform:translate(0.68px,0.10px) scale(1.146,1.096) skewX(0.05deg)">%</b></div>
<div class="v"><b style="left:942.55px;top:651.68px;transform:translate(0.77px,-0.00px) scale(1.040,1.045) skewX(0.05deg)">4</b><b style="left:957.81px;top:651.68px;transform:translate(0.69px,0.00px) scale(1.040,1.045) skewX(0.05deg)">9</b><b style="left:981.50px;top:651.68px;transform:translate(0.62px,2.91px) skewX(-8deg) scale(1.000,1.243) skewX(0.05deg)">/</b><b style="left:1000.85px;top:651.68px;transform:translate(0.69px,-0.00px) scale(1.040,1.045) skewX(0.05deg)">2</b><b style="left:1016.11px;top:651.68px;transform:translate(0.68px,-0.00px) scale(1.040,1.045) skewX(0.05deg)">7</b></div>
<div class="v"><b style="left:1112.55px;top:651.68px;transform:translate(0.68px,-0.00px) scale(1.040,1.045) skewX(0.05deg)">7</b><b style="left:1136.25px;top:651.68px;transform:translate(0.62px,2.91px) skewX(-8deg) scale(1.000,1.243) skewX(0.05deg)">/</b><b style="left:1155.59px;top:651.68px;transform:translate(0.17px,-1.10px) scale(1.246,1.067) skewX(0.05deg)">-</b><b style="left:1165.88px;top:651.68px;transform:translate(0.69px,-0.00px) scale(1.040,1.045) skewX(0.05deg)">2</b></div>
<div class="v"><b style="left:1230.55px;top:651.68px;transform:translate(0.77px,-0.00px) scale(1.040,1.045) skewX(0.05deg)">4</b><b style="left:1245.81px;top:651.68px;transform:translate(0.69px,0.00px) scale(1.040,1.045) skewX(0.05deg)">0</b><b style="left:1261.07px;top:651.68px;transform:translate(0.77px,-0.00px) scale(1.040,1.045) skewX(0.05deg)">4</b></div>
<div class="v"><b style="left:1360.55px;top:651.68px;transform:translate(0.17px,-1.10px) scale(1.246,1.067) skewX(0.05deg)">-</b><b style="left:1370.84px;top:651.68px;transform:translate(0.76px,0.00px) scale(1.040,1.045) skewX(0.05deg)">3</b><b style="left:1386.10px;top:651.68px;transform:translate(0.77px,-0.00px) scale(1.040,1.045) skewX(0.05deg)">4</b></div>
<div class="lab" style="left:21px;top:688px;height:76px;"><div><span>Luxury</span><span>Condo/Townhome</span></div></div>
<div class="v"><b style="left:354.55px;top:714.68px;transform:translate(1.96px,1.66px) scale(0.858,1.137) skewX(0.05deg)">$</b><b style="left:369.81px;top:714.68px;transform:translate(1.83px,-0.00px) scale(0.900,1.045) skewX(0.05deg)">1</b><b style="left:385.07px;top:714.68px;transform:translate(0.82px,-0.28px) skewX(-20deg) scale(1.100,1.313) skewX(0.05deg)">,</b><b style="left:393.80px;top:714.68px;transform:translate(0.60px,0.00px) scale(1.040,1.045) skewX(0.05deg)">6</b><b style="left:409.05px;top:714.68px;transform:translate(0.68px,-0.00px) scale(1.040,1.045) skewX(0.05deg)">7</b><b style="left:424.31px;top:714.68px;transform:translate(0.69px,0.00px) scale(1.040,1.045) skewX(0.05deg)">8</b><b style="left:439.57px;top:714.68px;transform:translate(0.82px,-0.28px) skewX(-20deg) scale(1.100,1.313) skewX(0.05deg)">,</b><b style="left:448.30px;top:714.68px;transform:translate(0.69px,0.00px) scale(1.040,1.045) skewX(0.05deg)">0</b><b style="left:463.56px;top:714.68px;transform:translate(0.76px,0.00px) scale(1.040,1.045) skewX(0.05deg)">3</b><b style="left:478.82px;top:714.68px;transform:translate(0.60px,0.00px) scale(1.040,1.045) skewX(0.05deg)">6</b></div>
<div class="v r"><b style="left:527.55px;top:714.68px;transform:translate(0.17px,-1.10px) scale(1.246,1.067) skewX(0.05deg)">-</b><b style="left:537.84px;top:714.68px;transform:translate(0.77px,-0.00px) scale(1.040,1.045) skewX(0.05deg)">4</b><b style="left:553.10px;top:714.68px;transform:translate(0.13px,-0.00px) scale(1.269,1.130) skewX(0.05deg)">.</b><b style="left:561.83px;top:714.68px;transform:translate(0.69px,0.00px) scale(1.040,1.045) skewX(0.05deg)">0</b><b style="left:577.09px;top:714.68px;transform:translate(0.69px,0.00px) scale(1.040,1.045) skewX(0.05deg)">0</b><b style="left:592.34px;top:714.68px;transform:translate(0.68px,0.10px) scale(1.146,1.096) skewX(0.05deg)">%</b></div>
<div class="v"><b style="left:645.55px;top:714.68px;transform:translate(1.96px,1.66px) scale(0.858,1.137) skewX(0.05deg)">$</b><b style="left:660.81px;top:714.68px;transform:translate(1.83px,-0.00px) scale(0.900,1.045) skewX(0.05deg)">1</b><b style="left:676.07px;top:714.68px;transform:translate(0.82px,-0.28px) skewX(-20deg) scale(1.100,1.313) skewX(0.05deg)">,</b><b style="left:684.80px;top:714.68px;transform:translate(0.60px,0.00px) scale(1.040,1.045) skewX(0.05deg)">6</b><b style="left:700.05px;top:714.68px;transform:translate(1.83px,-0.00px) scale(0.900,1.045) skewX(0.05deg)">1</b><b style="left:715.31px;top:714.68px;transform:translate(0.60px,0.00px) scale(1.040,1.045) skewX(0.05deg)">6</b><b style="left:730.57px;top:714.68px;transform:translate(0.82px,-0.28px) skewX(-20deg) scale(1.100,1.313) skewX(0.05deg)">,</b><b style="left:739.30px;top:714.68px;transform:translate(0.69px,0.00px) scale(1.040,1.045) skewX(0.05deg)">8</b><b style="left:754.56px;top:714.68px;transform:translate(0.76px,0.00px) scale(1.040,1.045) skewX(0.05deg)">3</b><b style="left:769.82px;top:714.68px;transform:translate(0.69px,0.00px) scale(1.040,1.045) skewX(0.05deg)">8</b></div>
<div class="v r"><b style="left:818.55px;top:714.68px;transform:translate(0.17px,-1.10px) scale(1.246,1.067) skewX(0.05deg)">-</b><b style="left:828.84px;top:714.68px;transform:translate(0.77px,-0.00px) scale(1.040,1.045) skewX(0.05deg)">4</b><b style="left:844.10px;top:714.68px;transform:translate(0.13px,-0.00px) scale(1.269,1.130) skewX(0.05deg)">.</b><b style="left:852.83px;top:714.68px;transform:translate(0.69px,0.00px) scale(1.040,1.045) skewX(0.05deg)">8</b><b style="left:868.09px;top:714.68px;transform:translate(0.71px,-0.00px) scale(1.040,1.045) skewX(0.05deg)">5</b><b style="left:883.34px;top:714.68px;transform:translate(0.68px,0.10px) scale(1.146,1.096) skewX(0.05deg)">%</b></div>
<div class="v"><b style="left:942.55px;top:714.68px;transform:translate(0.71px,-0.00px) scale(1.040,1.045) skewX(0.05deg)">5</b><b style="left:957.81px;top:714.68px;transform:translate(0.77px,-0.00px) scale(1.040,1.045) skewX(0.05deg)">4</b><b style="left:981.50px;top:714.68px;transform:translate(0.62px,2.91px) skewX(-8deg) scale(1.000,1.243) skewX(0.05deg)">/</b><b style="left:1000.85px;top:714.68px;transform:translate(1.83px,-0.00px) scale(0.900,1.045) skewX(0.05deg)">1</b><b style="left:1016.11px;top:714.68px;transform:translate(0.69px,0.00px) scale(1.040,1.045) skewX(0.05deg)">8</b></div>
<div class="v"><b style="left:1112.55px;top:714.68px;transform:translate(1.83px,-0.00px) scale(0.900,1.045) skewX(0.05deg)">1</b><b style="left:1127.81px;top:714.68px;transform:translate(0.69px,0.00px) scale(1.040,1.045) skewX(0.05deg)">0</b><b style="left:1151.50px;top:714.68px;transform:translate(0.62px,2.91px) skewX(-8deg) scale(1.000,1.243) skewX(0.05deg)">/</b><b style="left:1170.85px;top:714.68px;transform:translate(0.17px,-1.10px) scale(1.246,1.067) skewX(0.05deg)">-</b><b style="left:1181.14px;top:714.68px;transform:translate(0.76px,0.00px) scale(1.040,1.045) skewX(0.05deg)">3</b></div>
<div class="v"><b style="left:1230.55px;top:714.68px;transform:translate(1.83px,-0.00px) scale(0.900,1.045) skewX(0.05deg)">1</b><b style="left:1245.81px;top:714.68px;transform:translate(0.76px,0.00px) scale(1.040,1.045) skewX(0.05deg)">3</b><b style="left:1261.07px;top:714.68px;transform:translate(0.77px,-0.00px) scale(1.040,1.045) skewX(0.05deg)">4</b></div>
<div class="v"><b style="left:1360.55px;top:714.68px;transform:translate(0.76px,0.00px) scale(1.040,1.045) skewX(0.05deg)">3</b></div>
</body></html>
